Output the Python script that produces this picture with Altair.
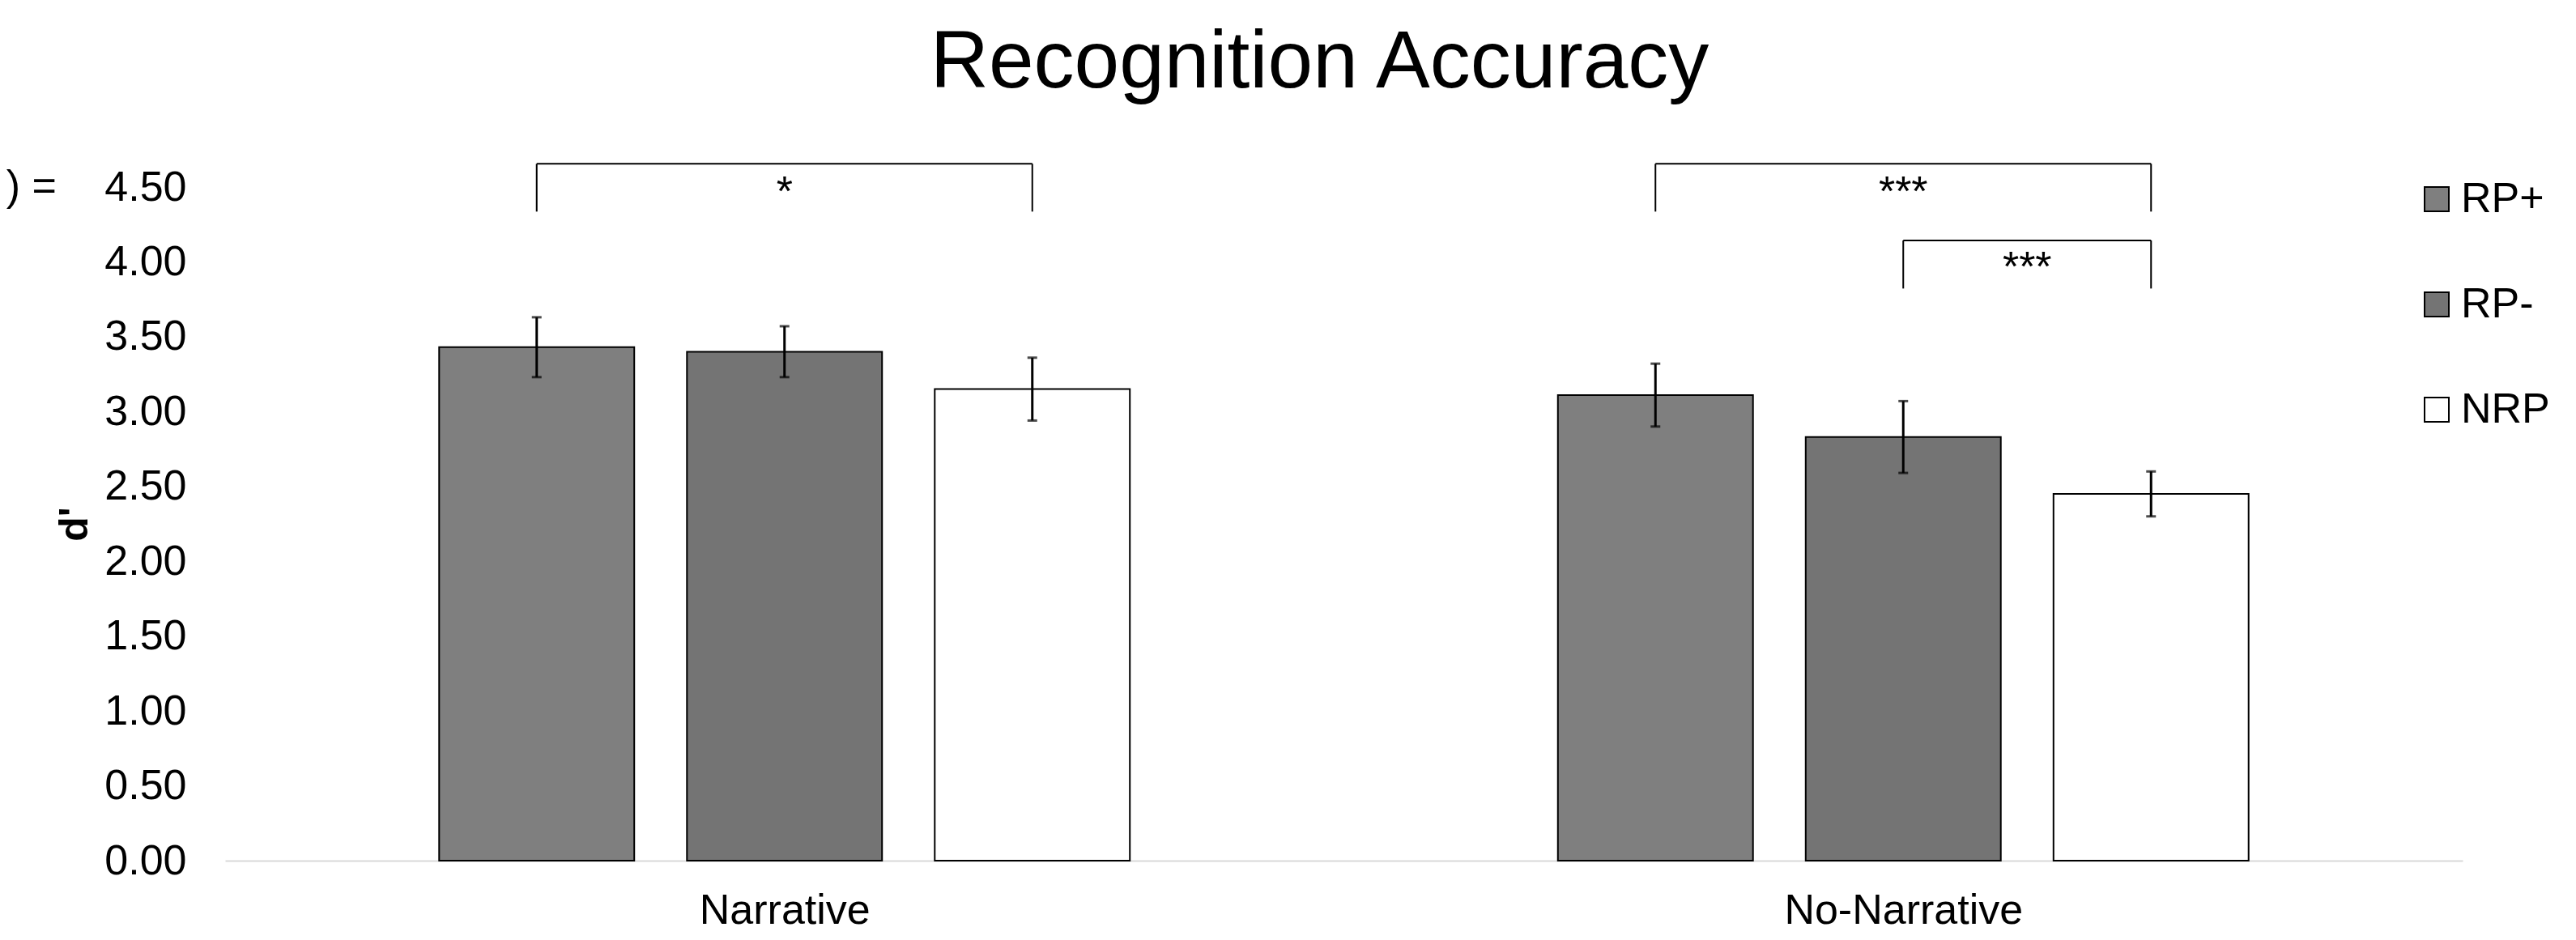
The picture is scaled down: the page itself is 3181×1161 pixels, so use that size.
import altair as alt
import pandas as pd

# ---- data ----
groups = ["Narrative", "No-Narrative"]
series = ["RP+", "RP-", "NRP"]
colors = ["#7f7f7f", "#747474", "#ffffff"]
means_narrative = [3.43, 3.40, 3.15]
means_no_narrative = [3.11, 2.83, 2.45]
err_narrative = [0.20, 0.17, 0.21]
err_no_narrative = [0.21, 0.24, 0.15]
y_ticks = [0, 0.5, 1, 1.5, 2, 2.5, 3, 3.5, 4, 4.5]

# significance brackets
brk_group = ["Narrative", "No-Narrative", "No-Narrative"]
brk_from = ["RP+", "RP+", "RP-"]
brk_to = ["NRP", "NRP", "NRP"]
brk_label = ["*", "***", "***"]

# ---- layout constants (not data) ----
STEP = 0.2215      # distance between bar centres within a group (group units)
HALF = 0.0872      # half bar width (group units)
BRK_TOP = [4.655, 4.655, 4.143]
BRK_FOOT = [4.336, 4.336, 3.822]
BRK_TEXT = [4.375, 4.375, 3.87]
FONT = "Liberation Sans"


def pos(g, s):
    return groups.index(g) + (series.index(s) - 1) * STEP


rows = []
for g, ms, es in [("Narrative", means_narrative, err_narrative),
                  ("No-Narrative", means_no_narrative, err_no_narrative)]:
    for s, m, e in zip(series, ms, es):
        p = pos(g, s)
        rows.append(dict(group=g, series=s, mean=m, base=0, lo=m - e, hi=m + e,
                         pos=p, x0=p - HALF, x1=p + HALF))
df = pd.DataFrame(rows)

legs, tops, texts = [], [], []
for g, a, b, lab, t, f, ty in zip(brk_group, brk_from, brk_to, brk_label,
                                   BRK_TOP, BRK_FOOT, BRK_TEXT):
    pa, pb = pos(g, a), pos(g, b)
    legs.append(dict(x=pa, y=f, y2=t))
    legs.append(dict(x=pb, y=f, y2=t))
    tops.append(dict(x=pa, x2=pb, y=t))
    texts.append(dict(x=(pa + pb) / 2, y=ty, label=lab))
legs = pd.DataFrame(legs)
tops = pd.DataFrame(tops)
texts = pd.DataFrame(texts)

xscale = alt.Scale(domain=[-0.5, 1.5], nice=False, zero=False)
yscale = alt.Scale(domain=[0, 4.5], nice=False)

label_expr = "[" + ",".join("'" + g + "'" for g in groups) + "][datum.value]"

x_axis = alt.Axis(values=[0, 1], labelExpr=label_expr, labelFontSize=52,
                  labelFont=FONT, labelColor="black", ticks=False, grid=False,
                  domainColor="#d9d9d9", domainWidth=2, labelPadding=36,
                  labelLimit=800, title=None)
y_axis = alt.Axis(values=y_ticks, format=".2f", labelFontSize=52,
                  labelFont=FONT, labelColor="black", domain=False,
                  ticks=False, grid=False, labelPadding=48,
                  title="d'", titleFont=FONT, titleFontSize=50,
                  titleFontWeight="bold", titleColor="black",
                  titleAngle=270, titleX=-186, titleY=416,
                  titleAlign="center", titleBaseline="middle")

bars = alt.Chart(df).mark_bar(stroke="black", strokeWidth=2).encode(
    x=alt.X("x0:Q", scale=xscale, axis=x_axis),
    x2="x1:Q",
    y=alt.Y("mean:Q", scale=yscale, axis=y_axis),
    y2="base:Q",
    fill=alt.Fill("series:N", sort=series,
                  scale=alt.Scale(domain=series, range=colors),
                  legend=alt.Legend(title=None, orient="none", legendX=2705,
                                    legendY=-11, direction="vertical",
                                    symbolType="square", symbolSize=900,
                                    symbolStrokeColor="black",
                                    symbolStrokeWidth=2, labelFontSize=52,
                                    labelFont=FONT, labelColor="black",
                                    labelOffset=4, rowPadding=78)),
)

err = alt.Chart(df).mark_rule(color="black", strokeWidth=3).encode(
    x=alt.X("pos:Q", scale=xscale), y=alt.Y("lo:Q", scale=yscale), y2="hi:Q")
cap_lo = alt.Chart(df).mark_tick(color="black", orient="horizontal",
                                 size=12, thickness=3).encode(
    x=alt.X("pos:Q", scale=xscale), y=alt.Y("lo:Q", scale=yscale))
cap_hi = alt.Chart(df).mark_tick(color="black", orient="horizontal",
                                 size=12, thickness=3).encode(
    x=alt.X("pos:Q", scale=xscale), y=alt.Y("hi:Q", scale=yscale))

leg_rules = alt.Chart(legs).mark_rule(color="black", strokeWidth=2).encode(
    x=alt.X("x:Q", scale=xscale), y=alt.Y("y:Q", scale=yscale), y2="y2:Q")
top_rules = alt.Chart(tops).mark_rule(color="black", strokeWidth=2).encode(
    x=alt.X("x:Q", scale=xscale), x2="x2:Q", y=alt.Y("y:Q", scale=yscale))
stars = alt.Chart(texts).mark_text(font=FONT, fontSize=52, color="black",
                                   baseline="alphabetic", align="center").encode(
    x=alt.X("x:Q", scale=xscale), y=alt.Y("y:Q", scale=yscale), text="label:N")

frag = alt.Chart(pd.DataFrame({"t": [") ="], "y": [4.5]})).mark_text(
    font=FONT, fontSize=52, color="black", align="right", baseline="middle"
).encode(x=alt.value(-208), y=alt.Y("y:Q", scale=yscale), text="t:N")

chart = alt.layer(bars, err, cap_lo, cap_hi, leg_rules, top_rules, stars, frag).properties(
    width=2763, height=832,
    title=alt.TitleParams("Recognition Accuracy", fontSize=100, font=FONT,
                          fontWeight="normal", color="black", anchor="middle",
                          dx=-30, offset=72),
    autosize=alt.AutoSizeParams(type="none"),
    padding={"left": 270, "top": 223, "right": 132, "bottom": 90},
    background="white",
).configure_view(strokeWidth=0, stroke="transparent")

chart.save("out.html", embed_options={"renderer": "svg", "actions": False})
